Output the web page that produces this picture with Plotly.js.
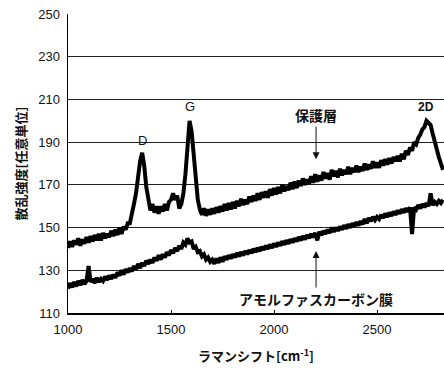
<!DOCTYPE html>
<html><head><meta charset="utf-8">
<script src="https://cdn.plot.ly/plotly-3.0.1.min.js"></script>
<style>html,body{margin:0;padding:0;background:#fff;}#chart{width:444px;height:374px;}</style>
</head><body><div id="chart"></div>
<script>
// Raman shift axis: starts at 1000 cm-1, one value per 10 cm-1
var shiftStart = 1000;
var shiftStep = 10;

// 保護層 (protective layer) spectrum, 1000..2820 cm-1
var protectiveLayer = [
  140.5,143.5,141,144,142,145,141.5,144.5,142.5,145.5,
  143,146,143.5,146.5,144,147,144,147.5,145,147,
  145.5,148.5,146,149,146.5,150,147,150.5,149,152,
  152,156,161,166,174,181,185,179,169,162,
  158,161,157,160,156.5,160,157.5,161,158,162,
  163,166,163,165,159,161,166,175,189,200,
  195,183,171,163,158.5,156,159,155.5,158.5,156,
  159,156.5,159.5,157,160,157.5,161,158,161.5,158.5,
  162,159,162.5,160,163.5,160.5,163,161,164.5,162,
  165,162.5,166,163,166.5,164,167,164,168,165,
  168.5,165.5,169,166,170,167,169.5,167.5,171,168,
  171.5,168.5,172,169.5,173,170,172.5,170.5,174,171,
  175,171.5,174.5,172,176,173,175.5,172.5,177,174,
  176.5,173.5,177.5,174.5,177,175,178.5,175,178,176,
  179,176,178.5,176.5,180,177,179.5,177.5,181,178,
  180.5,178,181.5,179,182,179.5,182.5,180,183,181,
  183.5,181,184.5,182,186,184,187.5,186,190,189,
  192,193.5,196,197,200,199,198,194,190,186,
  183,180,177
];

// アモルファスカーボン膜 (amorphous carbon film) spectrum, 1000..2820 cm-1
var amorphousCarbon = [
  121.5,124,122,124.5,122.5,125,123,125.5,123.5,125,
  132,124.5,126,124,126.5,124.5,126,125,127,125.5,
  127.5,126,128,126.5,129,127.5,130,128,130.5,129,
  131,129.5,132,130.5,133,131,133.5,132,134.5,133,
  135,133.5,136,134.5,137,135,137.5,136,138.5,137,
  139.5,138,140.5,139,141.5,140,143,142,145,143,
  143.5,140,141,138.5,139,136.5,137.5,135,136,134,
  135,133,135.5,133.5,136,134,136.5,135,137,135.5,
  137.5,136,138,136.5,138.5,137,139,137.5,139.5,138,
  140,138.5,140.5,139,141,139.5,141.5,140,142,140.5,
  142.5,141,143,141.5,143.5,142,144,142.5,144.5,143,
  145,143.5,145.5,144,146,144.5,146.5,145,147,145.5,
  147.5,144,148,146.5,148.5,147,149,147.5,150,148,
  150,148.5,150.5,149,151,149.5,151.5,150,152,150.5,
  152.5,151,153,151.5,154,152,154.5,153,155,153.5,
  155,154,156,154.5,156.5,155,157,155.5,157.5,156,
  158,156.5,158.5,157,159,157.5,159.5,147,159.5,158.5,
  160.5,159,161,159.5,161.5,160,166,160.5,162,161,
  162.5,161.5,163
];

var yTicks = [110,130,150,170,190,210,230,250];
var xTicks = [1000,1500,2000,2500];

var jp = '"Noto Sans CJK JP", sans-serif';
var num = '"Liberation Sans", Arial, sans-serif';

var traces = [
  {y: protectiveLayer, x0: shiftStart, dx: shiftStep, type: 'scatter', mode: 'lines',
   line: {color: '#000', width: 4}, hoverinfo: 'skip'},
  {y: amorphousCarbon, x0: shiftStart, dx: shiftStep, type: 'scatter', mode: 'lines',
   line: {color: '#000', width: 4}, hoverinfo: 'skip'}
];

var layout = {
  width: 444, height: 374,
  margin: {l: 68, r: 0, t: 14, b: 61},
  paper_bgcolor: '#fff', plot_bgcolor: '#fff',
  showlegend: false,
  xaxis: {
    range: [1000, 2825], tickvals: xTicks, ticktext: xTicks.map(String),
    ticks: 'inside', ticklen: 3, tickcolor: '#000',
    showgrid: false, zeroline: false,
    showline: true, linecolor: '#000', linewidth: 1.5,
    ticklabelstandoff: 4,
    tickfont: {family: num, size: 13, color: '#111'},
    title: {text: '<b>ラマンシフト[cm<sup>-1</sup>]</b>', font: {family: jp, size: 13, color: '#111'}, standoff: 16}
  },
  yaxis: {
    range: [110, 250], tickvals: yTicks, ticktext: yTicks.map(String),
    ticks: '', showgrid: true, gridcolor: '#222', gridwidth: 1,
    zeroline: false, showline: true, linecolor: '#000', linewidth: 1.5,
    ticklabelstandoff: 4,
    tickfont: {family: num, size: 13, color: '#111'},
    title: {text: '<b>散乱強度[任意単位]</b>', font: {family: jp, size: 13, color: '#111'}, standoff: 8}
  },
  annotations: [
    {x: 1364, y: 191, text: 'D', showarrow: false, font: {family: num, size: 13, color: '#111'}},
    {x: 1592, y: 206.5, text: 'G', showarrow: false, font: {family: num, size: 13, color: '#111'}},
    {x: 2738, y: 206.5, text: '<b>2D</b>', showarrow: false, font: {family: num, size: 12, color: '#111'}},
    {x: 2204, y: 182, text: '<b>保護層</b>', showarrow: true, ax: 0, ay: -44,
     arrowhead: 2, arrowsize: 1.4, arrowwidth: 1, arrowcolor: '#111',
     font: {family: jp, size: 14, color: '#111'}},
    {x: 2204, y: 139, text: '<b>アモルファスカーボン膜</b>', showarrow: true, ax: 0, ay: 48,
     arrowhead: 2, arrowsize: 1.4, arrowwidth: 1, arrowcolor: '#111',
     font: {family: jp, size: 14, color: '#111'}}
  ]
};

Plotly.newPlot('chart', traces, layout, {staticPlot: true, displayModeBar: false});
</script>
</body></html>
